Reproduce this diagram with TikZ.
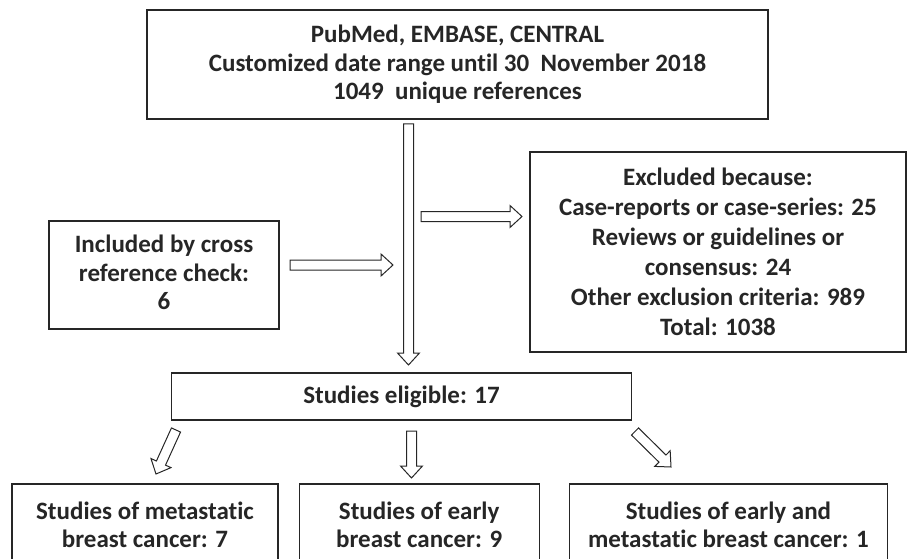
\documentclass[tikz,border=0pt]{standalone}
\usepackage{fontspec}
\setmainfont{Carlito}[Ligatures=NoCommon]
\usepackage{tikz}
\usetikzlibrary{positioning,calc}

% hollow block arrow from #1 to #2
\newcommand{\hollowarrow}[2]{%
  \coordinate (hb) at ($(#2)!12pt!(#1)$);
  \draw[blockarrow] ($(#1)!5pt!90:(#2)$) -- ($(hb)!5pt!-90:(#1)$)
    -- ($(hb)!11pt!-90:(#1)$) -- (#2) -- ($(hb)!11pt!90:(#1)$)
    -- ($(hb)!5pt!90:(#1)$) -- ($(#1)!5pt!-90:(#2)$) -- cycle;}

\begin{document}
\begin{tikzpicture}
[x=1pt, y=-1pt,
textbox/.style={rectangle, draw=black!85, line width=1.2pt, fill=white, align=center,
  text=black!85, font=\fontsize{25}{28.5}\selectfont\bfseries, inner sep=0pt},
blockarrow/.style={draw=black!85, line width=1pt, fill=white, line join=miter},
]
\useasboundingbox (0,0) rectangle (908,559);
\clip (0,0) rectangle (908,559);

\node[textbox, minimum width=621pt, minimum height=109pt] (search) at (457.5,64.5)
  {PubMed, EMBASE, CENTRAL\\Customized date range until 30\ \ November 2018\\1049\ \ unique references};
\node[textbox, minimum width=376pt, minimum height=200pt,
  font=\fontsize{25}{30}\selectfont\bfseries] (excl) at (718,252)
  {Excluded because:\\Case-reports or case-series: 25\\Reviews or guidelines or\\consensus: 24\\Other exclusion criteria: 989\\Total: 1038};
\node[textbox, minimum width=230pt, minimum height=108pt] (incl) at (164,275)
  {Included by cross\\reference check:\\6\rule[-5pt]{0pt}{1pt}};
\node[textbox, minimum width=460pt, minimum height=47pt] (elig) at (401.5,396.5)
  {Studies eligible: 17};

\node[textbox, minimum width=266pt, minimum height=82pt] (meta) at (145,525)
  {Studies of metastatic\\breast cancer: 7};
\node[textbox, minimum width=240pt, minimum height=82pt] (early) [right=20pt of meta]
  {Studies of early\\breast cancer: 9};
\node[textbox, minimum width=318pt, minimum height=82pt] (both) [right=29pt of early]
  {Studies of early and\\metastatic breast cancer: 1};

\coordinate (v1) at (408.5,124);
\coordinate (v2) at (408.5,365);
\coordinate (i1) at (290,265);
\coordinate (i2) at (393,265);
\coordinate (e1) at (421,216.5);
\coordinate (e2) at (522,216.5);
\coordinate (m1) at (176,430);
\coordinate (m2) at (156,474);
\coordinate (y1) at (411.5,431);
\coordinate (y2) at (411.5,478);
\coordinate (b1) at (635,431.5);
\coordinate (b2) at (671,467);

\hollowarrow{v1}{v2}
\hollowarrow{i1}{i2}
\hollowarrow{e1}{e2}
\hollowarrow{m1}{m2}
\hollowarrow{y1}{y2}
\hollowarrow{b1}{b2}
\end{tikzpicture}
\end{document}
